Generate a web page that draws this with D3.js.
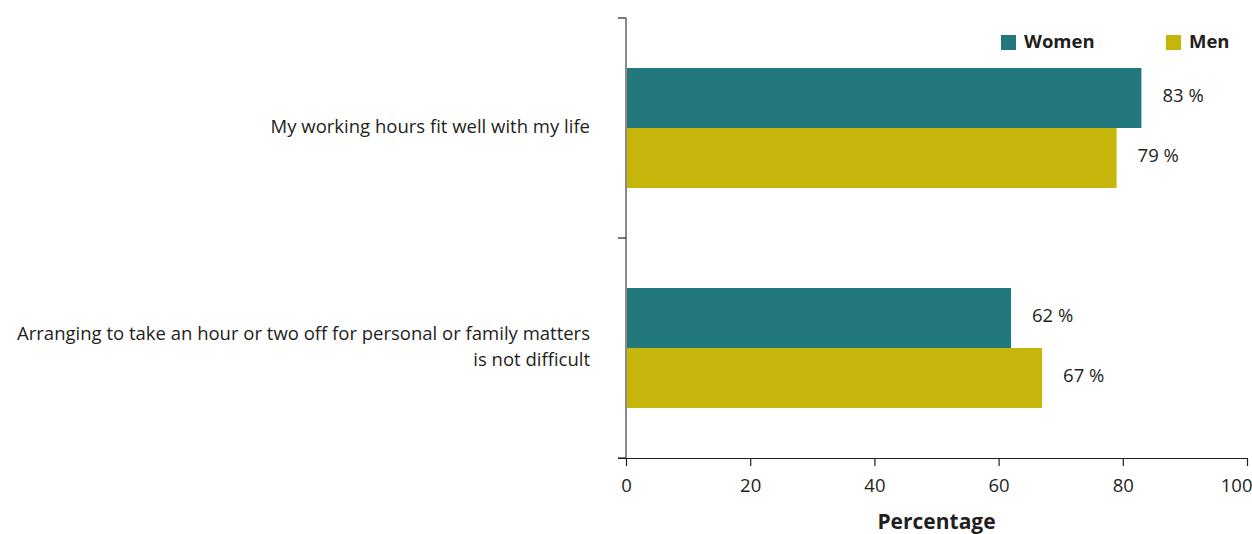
<!DOCTYPE html>
<html>
<head>
<meta charset="utf-8">
<script src="https://cdn.jsdelivr.net/npm/d3@7"></script>
<style>
  html, body { margin: 0; padding: 0; background: #fff; }
  svg { display: block; font-family: "Open Sans", "Noto Sans", sans-serif; }
</style>
</head>
<body>
<svg id="chart" width="1252" height="534"></svg>
<script>
// Share of workers agreeing with each statement, by sex
const categories = [
  ["My working hours fit well with my life"],
  ["Arranging to take an hour or two off for personal or family matters", "is not difficult"]
];
const categoryKeys = categories.map(c => c.join(" "));
const seriesNames = ["Women", "Men"];
const women = [83, 62];
const men = [79, 67];
const seriesValues = [women, men];
const xTicks = [0, 20, 40, 60, 80, 100];
const colors = ["#22787d", "#c6b50b"];

const ink = "#231f20";
const textSize = 18.5;

const svg = d3.select("#chart");
const plotLeft = 626, plotRight = 1247, plotTop = 18, plotBottom = 458;

const x = d3.scaleLinear().domain([0, 100]).range([plotLeft, plotRight]);
const pInner = 100 / 220;
const y0 = d3.scaleBand().domain(categoryKeys).range([plotTop, plotBottom])
  .paddingInner(pInner).paddingOuter(pInner / 2);
const y1 = d3.scaleBand().domain(seriesNames).range([0, y0.bandwidth()]);

// Bars
const groups = svg.append("g").selectAll("g")
  .data(categoryKeys)
  .join("g")
  .attr("transform", k => `translate(0,${y0(k)})`);

groups.selectAll("rect")
  .data((k, i) => seriesNames.map((s, j) => ({ s, v: seriesValues[j][i], c: colors[j] })))
  .join("rect")
  .attr("x", x(0))
  .attr("y", d => y1(d.s))
  .attr("width", d => x(d.v) - x(0))
  .attr("height", y1.bandwidth())
  .attr("fill", d => d.c);

// Value labels
groups.selectAll("text.val")
  .data((k, i) => seriesNames.map((s, j) => ({ s, v: seriesValues[j][i] })))
  .join("text")
  .attr("class", "val")
  .attr("x", d => x(d.v) + 21)
  .attr("y", d => y1(d.s) + y1.bandwidth() / 2 - 1)
  .attr("dominant-baseline", "middle")
  .attr("font-size", textSize)
  .attr("fill", ink)
  .text(d => `${d.v} %`);

// Y axis line and boundary ticks
svg.append("line")
  .attr("x1", plotLeft).attr("x2", plotLeft)
  .attr("y1", plotTop).attr("y2", plotBottom)
  .attr("stroke", "#8a8a8a").attr("stroke-width", 2);
const boundaries = d3.range(categoryKeys.length + 1).map(i => plotTop + i * y0.step());
svg.append("g").selectAll("line")
  .data(boundaries)
  .join("line")
  .attr("x1", plotLeft - 8).attr("x2", plotLeft)
  .attr("y1", d => d).attr("y2", d => d)
  .attr("stroke", ink).attr("stroke-width", 1.2);

// X axis
const xAxis = svg.append("g")
  .attr("transform", `translate(0,${plotBottom})`)
  .call(d3.axisBottom(x).tickValues(xTicks).tickSize(8).tickSizeOuter(0).tickPadding(13));
xAxis.select(".domain").attr("stroke", ink).attr("stroke-width", 1.2)
  .attr("d", `M${plotLeft - 8},0.5H${plotRight}`);
xAxis.selectAll(".tick line").attr("stroke", ink).attr("stroke-width", 1.2);
xAxis.selectAll(".tick text")
  .attr("font-size", textSize).attr("fill", ink)
  .attr("font-family", "'Open Sans', sans-serif");
// keep the last label inside the canvas
xAxis.selectAll(".tick text").filter(d => d === 100)
  .attr("text-anchor", "end").attr("x", 1252 - x(100));

svg.append("text")
  .attr("x", (plotLeft + plotRight) / 2)
  .attr("y", 529)
  .attr("text-anchor", "middle")
  .attr("font-size", 21)
  .attr("font-weight", "bold")
  .attr("fill", ink)
  .text("Percentage");

// Category labels
const catLabels = svg.append("g").selectAll("text")
  .data(categories)
  .join("text")
  .attr("text-anchor", "end")
  .attr("font-size", textSize)
  .attr("fill", ink)
  .attr("transform", (c, i) => `translate(590,${y0(categoryKeys[i]) + y0.bandwidth() / 2})`);
catLabels.selectAll("tspan")
  .data(c => c.map((line, j) => ({ line, j, n: c.length })))
  .join("tspan")
  .attr("x", 0)
  .attr("y", d => (d.j - (d.n - 1) / 2) * 26)
  .attr("dominant-baseline", "middle")
  .text(d => d.line);

// Legend
const legendX = [1001, 1166];
const legend = svg.append("g").selectAll("g")
  .data(seriesNames)
  .join("g")
  .attr("transform", (s, i) => `translate(${legendX[i]},35)`);
legend.append("rect")
  .attr("width", 15).attr("height", 15)
  .attr("fill", (s, i) => colors[i]);
legend.append("text")
  .attr("x", 23).attr("y", 8)
  .attr("dominant-baseline", "middle")
  .attr("font-size", textSize)
  .attr("font-weight", "bold")
  .attr("fill", ink)
  .text(s => s);
</script>
</body>
</html>
